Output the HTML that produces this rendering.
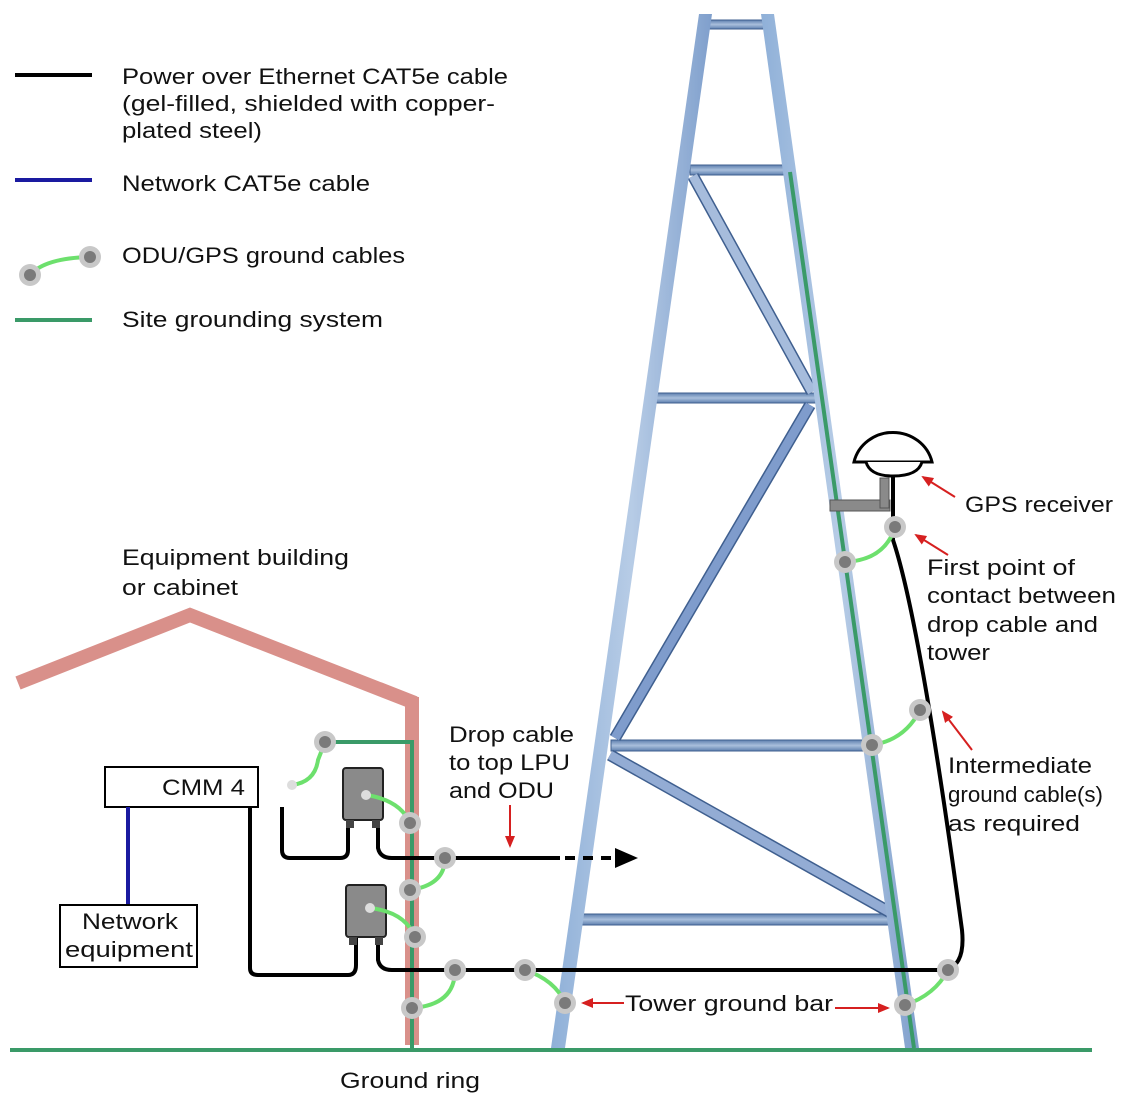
<!DOCTYPE html>
<html><head><meta charset="utf-8"><style>
html,body{margin:0;padding:0;background:#fff;}
svg{display:block;}
text{font-family:"Liberation Sans",sans-serif;font-size:22px;fill:#111;}
</style></head><body>
<svg width="1137" height="1098" viewBox="0 0 1137 1098" xmlns="http://www.w3.org/2000/svg">
<defs>
<linearGradient id="leg" x1="0" x2="1" y1="0" y2="0">
<stop offset="0" stop-color="#8fb0d8"/><stop offset="0.5" stop-color="#b7cce6"/><stop offset="1" stop-color="#7f9fcc"/></linearGradient>
<linearGradient id="bar" x1="0" x2="0" y1="0" y2="1">
<stop offset="0" stop-color="#5d7fae"/><stop offset="0.5" stop-color="#a9bfdc"/><stop offset="1" stop-color="#5d7fae"/></linearGradient>
<marker id="ra" markerWidth="12" markerHeight="10" refX="10" refY="5" orient="auto" markerUnits="userSpaceOnUse"><path d="M0,0 L12,5 L0,10 z" fill="#d62020"/></marker>
<g id="nd"><circle r="11" fill="#c8c8c8"/><circle r="6" fill="#7a7a7a"/></g>
</defs>

<!-- Legend -->
<line x1="15" y1="75" x2="92" y2="75" stroke="#000" stroke-width="4"/>
<text x="122" y="84" textLength="386" lengthAdjust="spacingAndGlyphs">Power over Ethernet CAT5e cable</text>
<text x="122" y="111" textLength="373" lengthAdjust="spacingAndGlyphs">(gel-filled, shielded with copper-</text>
<text x="122" y="138" textLength="140" lengthAdjust="spacingAndGlyphs">plated steel)</text>
<line x1="15" y1="180" x2="92" y2="180" stroke="#1a1aa0" stroke-width="4"/>
<text x="122" y="191" textLength="248" lengthAdjust="spacingAndGlyphs">Network CAT5e cable</text>
<path d="M30,275 Q45,258 90,257" stroke="#6de06d" stroke-width="4" fill="none"/>
<use href="#nd" x="30" y="275"/><use href="#nd" x="90" y="257"/>
<text x="122" y="263" textLength="283" lengthAdjust="spacingAndGlyphs">ODU/GPS ground cables</text>
<line x1="15" y1="320" x2="92" y2="320" stroke="#3a9a68" stroke-width="4"/>
<text x="122" y="327" textLength="261" lengthAdjust="spacingAndGlyphs">Site grounding system</text>

<!-- Tower -->
<g stroke="#3f5f8f" stroke-width="1">
<rect x="708" y="20" width="56" height="9" fill="url(#bar)"/>
<rect x="690" y="165" width="96" height="10" fill="url(#bar)"/>
<rect x="656" y="393" width="160" height="10" fill="url(#bar)"/>
<rect x="611" y="740" width="252" height="11" fill="url(#bar)"/>
<rect x="582" y="914" width="312" height="11" fill="url(#bar)"/>
</g>
<g stroke-linecap="butt">
<line x1="693" y1="176" x2="812" y2="392" stroke="#3f5f8f" stroke-width="12"/>
<line x1="693" y1="176" x2="812" y2="392" stroke="#a6bcdc" stroke-width="9"/>
<line x1="810" y1="405" x2="615" y2="738" stroke="#3f5f8f" stroke-width="12"/>
<line x1="810" y1="405" x2="615" y2="738" stroke="#7f9ccc" stroke-width="9"/>
<line x1="610" y1="755" x2="893" y2="914" stroke="#3f5f8f" stroke-width="12"/>
<line x1="610" y1="755" x2="893" y2="914" stroke="#93acd4" stroke-width="9"/>
</g>
<polygon points="699,14 712,14 565,1048 551,1048" fill="url(#leg)"/>
<polygon points="761,14 774,14 919,1048 905,1048" fill="url(#leg)"/>
<line x1="790" y1="172" x2="914" y2="1048" stroke="#3a9a68" stroke-width="4"/>

<!-- Ground ring -->
<line x1="10" y1="1050" x2="1092" y2="1050" stroke="#3a9a68" stroke-width="4"/>

<!-- Building -->
<polyline points="18,683 190,615 415,703" stroke="#d9908a" stroke-width="14" fill="none"/>
<line x1="412" y1="697" x2="412" y2="1045" stroke="#d9908a" stroke-width="14"/>
<polyline points="325,742 412,742 412,1050" stroke="#3a9a68" stroke-width="4" fill="none"/>

<!-- Black cables -->
<g stroke="#000" stroke-width="4" fill="none">
<path d="M282,807 V850 Q282,858 290,858 H340 Q348,858 348,850 V822"/>
<path d="M250,807 V968 Q250,975 258,975 H348 Q356,975 356,965 V938"/>
<path d="M378,822 V848 Q380,858 392,858 H560"/>
<path d="M378,938 V960 Q380,970 392,970 H945"/>
<path d="M893,475 V540 Q920,620 962,930 Q966,970 940,970"/>
</g>
<line x1="565" y1="858" x2="615" y2="858" stroke="#000" stroke-width="4" stroke-dasharray="10,8"/>
<path d="M615,848 L638,858 L615,868 z" fill="#000"/>

<!-- Boxes -->
<rect x="105" y="767" width="153" height="40" fill="#fff" stroke="#000" stroke-width="2"/>
<text x="162" y="795" textLength="83" lengthAdjust="spacingAndGlyphs">CMM 4</text>
<line x1="128" y1="807" x2="128" y2="905" stroke="#1a1aa0" stroke-width="4"/>
<rect x="60" y="905" width="137" height="62" fill="#fff" stroke="#000" stroke-width="2"/>
<text x="82" y="929" textLength="96" lengthAdjust="spacingAndGlyphs">Network</text>
<text x="65" y="957" textLength="128" lengthAdjust="spacingAndGlyphs">equipment</text>

<!-- LPUs -->
<rect x="343" y="768" width="40" height="52" rx="3" fill="#8a8a8a" stroke="#222" stroke-width="2"/>
<rect x="346" y="885" width="40" height="52" rx="3" fill="#8a8a8a" stroke="#222" stroke-width="2"/>
<g fill="#444"><rect x="346" y="820" width="8" height="8"/><rect x="372" y="820" width="8" height="8"/><rect x="349" y="937" width="8" height="8"/><rect x="375" y="937" width="8" height="8"/></g>

<!-- GPS -->
<path d="M854,462 A40,38 0 0 1 932,462 Z" fill="#fff" stroke="#000" stroke-width="3"/>
<path d="M866,462 Q870,476 893,476 Q918,476 922,462" fill="#fff" stroke="#000" stroke-width="3"/>
<rect x="830" y="500" width="60" height="11" fill="#8a8a8a" stroke="#555"/>
<rect x="880" y="478" width="9" height="30" fill="#8a8a8a" stroke="#555"/>

<!-- Ground cables -->
<g stroke="#6de06d" stroke-width="4" fill="none">
<path d="M292,785 Q315,782 318,760 L325,742"/>
<path d="M366,795 Q400,800 410,823"/>
<path d="M445,858 Q445,885 410,890"/>
<path d="M370,908 Q405,912 415,937"/>
<path d="M455,970 Q455,1005 412,1008"/>
<path d="M525,970 Q555,980 565,1003"/>
<path d="M895,527 Q885,560 845,562"/>
<path d="M920,710 Q905,740 872,745"/>
<path d="M948,970 Q935,995 905,1005"/>
</g>

<!-- Nodes -->
<use href="#nd" x="325" y="742"/><use href="#nd" x="410" y="823"/><use href="#nd" x="445" y="858"/>
<use href="#nd" x="410" y="890"/><use href="#nd" x="415" y="937"/><use href="#nd" x="455" y="970"/>
<use href="#nd" x="525" y="970"/><use href="#nd" x="565" y="1003"/><use href="#nd" x="412" y="1008"/>
<use href="#nd" x="895" y="527"/><use href="#nd" x="845" y="562"/><use href="#nd" x="920" y="710"/>
<use href="#nd" x="872" y="745"/><use href="#nd" x="948" y="970"/><use href="#nd" x="905" y="1005"/>
<circle cx="292" cy="785" r="5" fill="#ddd"/><circle cx="366" cy="795" r="5" fill="#ddd"/><circle cx="370" cy="908" r="5" fill="#ddd"/>

<!-- Labels -->
<text x="122" y="565" textLength="227" lengthAdjust="spacingAndGlyphs">Equipment building</text>
<text x="122" y="595" textLength="116" lengthAdjust="spacingAndGlyphs">or cabinet</text>
<text x="449" y="742" textLength="125" lengthAdjust="spacingAndGlyphs">Drop cable</text>
<text x="449" y="770" textLength="121" lengthAdjust="spacingAndGlyphs">to top LPU</text>
<text x="449" y="798" textLength="105" lengthAdjust="spacingAndGlyphs">and ODU</text>
<line x1="510" y1="805" x2="510" y2="846" stroke="#d62020" stroke-width="2" marker-end="url(#ra)"/>

<text x="965" y="512" textLength="148" lengthAdjust="spacingAndGlyphs">GPS receiver</text>
<line x1="955" y1="497" x2="923" y2="477" stroke="#d62020" stroke-width="2" marker-end="url(#ra)"/>
<text x="927" y="575" textLength="148" lengthAdjust="spacingAndGlyphs">First point of</text>
<text x="927" y="603" textLength="189" lengthAdjust="spacingAndGlyphs">contact between</text>
<text x="927" y="632" textLength="171" lengthAdjust="spacingAndGlyphs">drop cable and</text>
<text x="927" y="660" textLength="63" lengthAdjust="spacingAndGlyphs">tower</text>
<line x1="948" y1="555" x2="916" y2="535" stroke="#d62020" stroke-width="2" marker-end="url(#ra)"/>
<text x="948" y="773" textLength="144" lengthAdjust="spacingAndGlyphs">Intermediate</text>
<text x="948" y="802" textLength="155" lengthAdjust="spacingAndGlyphs">ground cable(s)</text>
<text x="948" y="831" textLength="132" lengthAdjust="spacingAndGlyphs">as required</text>
<line x1="972" y1="750" x2="943" y2="712" stroke="#d62020" stroke-width="2" marker-end="url(#ra)"/>

<text x="625" y="1011" textLength="208" lengthAdjust="spacingAndGlyphs">Tower ground bar</text>
<line x1="624" y1="1003" x2="583" y2="1003" stroke="#d62020" stroke-width="2" marker-end="url(#ra)"/>
<line x1="835" y1="1008" x2="888" y2="1008" stroke="#d62020" stroke-width="2" marker-end="url(#ra)"/>
<text x="340" y="1088" textLength="140" lengthAdjust="spacingAndGlyphs">Ground ring</text>
</svg>
</body></html>
